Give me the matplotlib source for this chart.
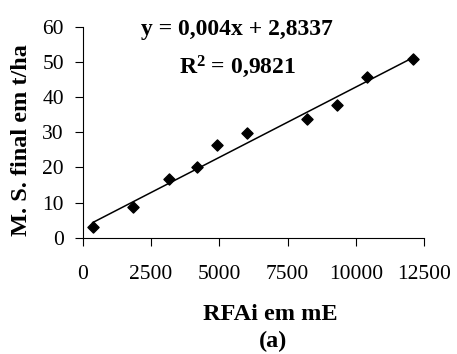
import numpy as np
import matplotlib
matplotlib.use("Agg")
import matplotlib.pyplot as plt

# data
rfai = [366, 1830, 3170, 4170, 4905, 6000, 8200, 9300, 10395, 12080]
ms_final = [3.0, 8.6, 16.7, 20.0, 26.3, 29.7, 33.7, 37.6, 45.6, 50.7]
slope, intercept = 0.004, 2.8337
x_ticks = [0, 2500, 5000, 7500, 10000, 12500]
y_ticks = [0, 10, 20, 30, 40, 50, 60]

plt.rcParams['font.family'] = ['Liberation Serif', 'DejaVu Serif']
plt.rcParams['mathtext.fontset'] = 'custom'
plt.rcParams['mathtext.rm'] = 'Liberation Serif'
plt.rcParams['mathtext.bf'] = 'Liberation Serif:bold'

W, H = 457, 354
fig = plt.figure(figsize=(W / 100, H / 100), dpi=100)
ax = fig.add_axes([0.181, 0.3286, 0.747, 0.596])

ax.scatter(rfai, ms_final, marker='D', s=32, color='black', zorder=3)
xl = np.array([min(rfai), max(rfai)])
ax.plot(xl, slope * xl + intercept, color='black', linewidth=1.1)

ax.set_xlim(0, 12500)
ax.set_ylim(0, 60)
ax.set_xticks(x_ticks)
ax.set_yticks(y_ticks)
ax.tick_params(direction='out', length=5.5, width=0.8, labelsize=15.5)
ax.tick_params(axis='x', pad=14)
ax.tick_params(axis='y', pad=8)
for side in ('top', 'right'):
    ax.spines[side].set_visible(False)
for side in ('left', 'bottom'):
    ax.spines[side].set_linewidth(0.8)

bold = dict(fontsize=17.5, fontweight='bold')
fig.text(22 / W, 1 - 140 / H, 'M. S. final em t/ha', rotation=90,
         ha='center', va='center', **bold)
fig.text(237 / W, 1 - 35 / H, 'y = 0,004x + 2,8337', ha='center',
         va='baseline', fontsize=17, fontweight='bold')
fig.text(238 / W, 1 - 73 / H, r'$\mathbf{R^2}$ = 0,9821', ha='center',
         va='baseline', fontsize=17, fontweight='bold')
fig.text(270 / W, 1 - 320 / H, 'RFAi em mE', ha='center', va='baseline', **bold)
fig.text(273 / W, 1 - 347 / H, '(a)', ha='center', va='baseline', **bold)

fig.savefig('out.png', dpi=100)
